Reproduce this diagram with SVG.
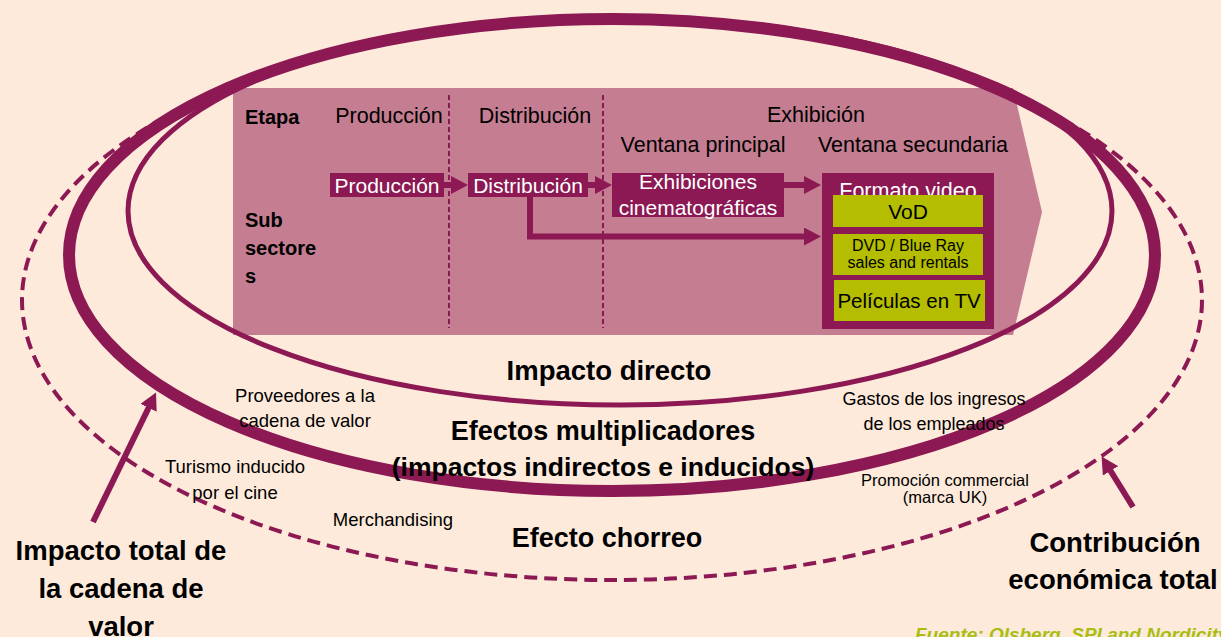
<svg xmlns="http://www.w3.org/2000/svg" width="1221" height="637" viewBox="0 0 1221 637">
<style>
.t{font-family:'Liberation Sans',Arial,sans-serif;fill:#000}
.b{font-weight:bold}
.w{fill:#fff}
.m{text-anchor:middle}
.box{fill:#8c1953}
.lime{fill:#b4bd00}
.sep{stroke:#8c1953;stroke-width:2;stroke-dasharray:5 3;fill:none}
.con{stroke:#8c1953;stroke-width:6;fill:none}
.src{font-family:'Liberation Sans',Arial,sans-serif;font-weight:bold;font-style:italic;fill:#a8be14}
</style>
<defs>
<marker id="ah" markerUnits="userSpaceOnUse" viewBox="0 0 17 18" markerWidth="17" markerHeight="18" refX="1" refY="9" orient="auto">
<path d="M0,0 L17,9 L0,18 z" fill="#8c1953"/>
</marker>
</defs>
<rect width="1221" height="637" fill="#fdeadb"/>

<g id="chain">
<polygon points="233,88 1013,88 1042,212 1013,335 233,335" fill="#c47d91"/>
<line class="sep" x1="449" y1="95" x2="449" y2="328"/>
<line class="sep" x1="603" y1="95" x2="603" y2="328"/>
<text class="t b" x="245" y="124" font-size="20">Etapa</text>
<text class="t m" x="389" y="123" font-size="21.5">Producción</text>
<text class="t m" x="535" y="123" font-size="21.5">Distribución</text>
<text class="t m" x="816" y="122" font-size="21.5">Exhibición</text>
<text class="t m" x="703" y="152" font-size="21.5">Ventana principal</text>
<text class="t m" x="913" y="152" font-size="21.5">Ventana secundaria</text>
<text class="t b" font-size="20"><tspan x="245" y="227">Sub</tspan><tspan x="245" y="255">sectore</tspan><tspan x="245" y="283">s</tspan></text>
</g>

<g id="rings" fill="none" stroke="#8c1953">
<ellipse cx="612" cy="300" rx="590" ry="280" stroke-width="4" stroke-dasharray="13 7"/>
<ellipse cx="612" cy="255" rx="543" ry="236" stroke-width="12"/>
<ellipse cx="620" cy="211" rx="492" ry="194" stroke-width="5"/>
</g>

<g id="connectors">
<path class="con" d="M444,185 L452,185" marker-end="url(#ah)"/>
<path class="con" d="M588,185 L596,185" marker-end="url(#ah)"/>
<path class="con" d="M784,185 L805,185" marker-end="url(#ah)"/>
<path class="con" d="M530,197 L530,236.5 L805,236.5" marker-end="url(#ah)"/>
<path class="con" d="M93,522 L149,407" marker-end="url(#ah)"/>
<path class="con" d="M1133,507 L1110,470" marker-end="url(#ah)"/>
</g>

<g id="n-produccion">
<rect class="box" x="330" y="173" width="114" height="24"/>
<text class="t w m" x="387" y="193" font-size="21">Producción</text>
</g>
<g id="n-distribucion">
<rect class="box" x="468" y="173" width="120" height="24"/>
<text class="t w m" x="528" y="193" font-size="21">Distribución</text>
</g>
<g id="n-exhibiciones">
<rect class="box" x="612" y="173" width="172" height="44"/>
<text class="t w m" x="698" y="189" font-size="21">Exhibiciones</text>
<text class="t w m" x="698" y="215" font-size="21">cinematográficas</text>
</g>
<g id="n-formato">
<rect class="box" x="822" y="173" width="172" height="156"/>
<text class="t w m" x="908" y="198" font-size="21.5">Formato video</text>
</g>
<g id="n-vod">
<rect class="lime" x="833" y="195" width="150" height="32"/>
<text class="t m" x="908" y="219" font-size="21">VoD</text>
</g>
<g id="n-dvd">
<rect class="lime" x="833" y="234" width="150" height="41"/>
<text class="t m" x="908" y="251" font-size="16">DVD / Blue Ray</text>
<text class="t m" x="908" y="268" font-size="16">sales and rentals</text>
</g>
<g id="n-tv">
<rect class="lime" x="834" y="280" width="151" height="41"/>
<text class="t m" x="909" y="308" font-size="20.5">Películas en TV</text>
</g>

<g id="labels">
<text class="t b m" x="609" y="380" font-size="27.5">Impacto directo</text>
<text class="t b m" x="603" y="440" font-size="27">Efectos multiplicadores</text>
<text class="t b m" x="603" y="476" font-size="26.5">(impactos indirectos e inducidos)</text>
<text class="t b m" x="607" y="547" font-size="27">Efecto chorreo</text>
<text class="t m" x="305" y="402" font-size="18.5">Proveedores a la</text>
<text class="t m" x="305" y="427" font-size="18.5">cadena de valor</text>
<text class="t m" x="235" y="473" font-size="18.5">Turismo inducido</text>
<text class="t m" x="235" y="499" font-size="18.5">por el cine</text>
<text class="t m" x="393" y="526" font-size="18.5">Merchandising</text>
<text class="t m" x="934" y="405" font-size="18">Gastos de los ingresos</text>
<text class="t m" x="934" y="430" font-size="18">de los empleados</text>
<text class="t m" x="945" y="486" font-size="16.5">Promoción commercial</text>
<text class="t m" x="945" y="503" font-size="16.5">(marca UK)</text>
<text class="t b m" x="121" y="560" font-size="27.5">Impacto total de</text>
<text class="t b m" x="121" y="598" font-size="27.5">la cadena de</text>
<text class="t b m" x="121" y="636" font-size="27.5">valor</text>
<text class="t b m" x="1115" y="552" font-size="27.5">Contribución</text>
<text class="t b m" x="1113" y="589" font-size="27.5">económica total</text>
<text class="src" x="915" y="641" font-size="19">Fuente: Olsberg, SPI and Nordicity</text>
</g>
</svg>
